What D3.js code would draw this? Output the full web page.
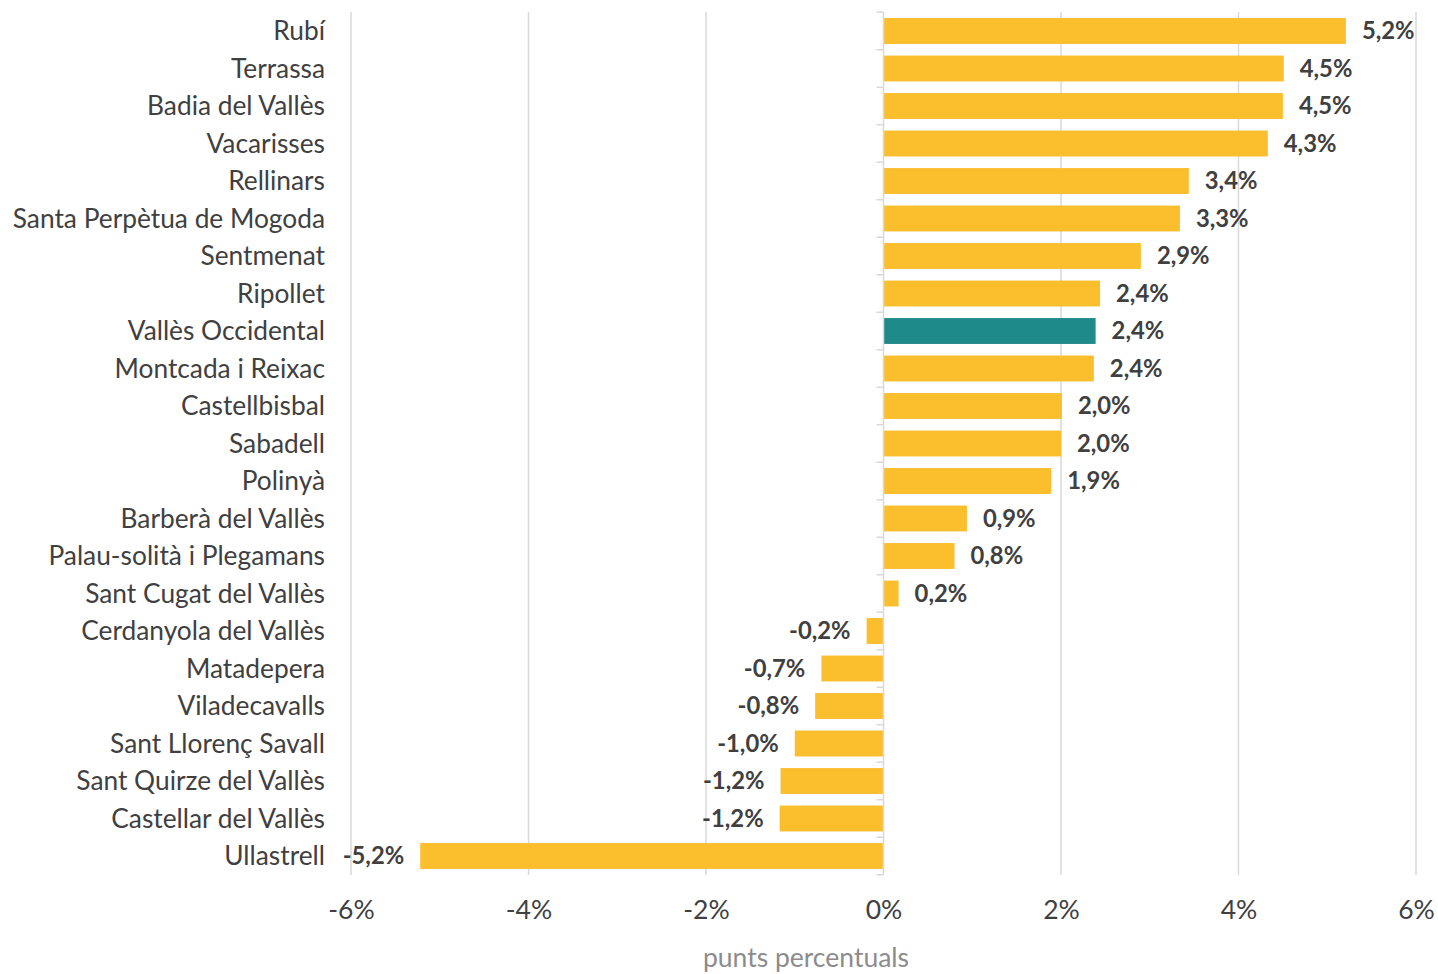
<!DOCTYPE html>
<meta charset="utf-8">
<head>
    <title>Vallès Occidental</title>
    <script src="https://d3js.org/d3.v7.min.js"></script>
</head>

<style>
    body { margin: 0; background: #fff; }
    text { font-family: Lato, "Open Sans", sans-serif; fill: #404040; }
    .grid line { stroke: #d9d9d9; stroke-width: 1.5; }
</style>

<svg></svg>

<script>
    // chart data
    var municipis = ["Rubí", "Terrassa", "Badia del Vallès", "Vacarisses", "Rellinars",
        "Santa Perpètua de Mogoda", "Sentmenat", "Ripollet", "Vallès Occidental",
        "Montcada i Reixac", "Castellbisbal", "Sabadell", "Polinyà", "Barberà del Vallès",
        "Palau-solità i Plegamans", "Sant Cugat del Vallès", "Cerdanyola del Vallès",
        "Matadepera", "Viladecavalls", "Sant Llorenç Savall", "Sant Quirze del Vallès",
        "Castellar del Vallès", "Ullastrell"];
    var variacio = [5.21, 4.51, 4.50, 4.33, 3.44, 3.34, 2.90, 2.44, 2.39, 2.37, 2.01, 2.00,
        1.89, 0.94, 0.80, 0.17, -0.19, -0.70, -0.77, -1.00, -1.16, -1.17, -5.22];
    var xTicks = [-6, -4, -2, 0, 2, 4, 6];
    var comarca = "Vallès Occidental";

    var vWidth = 1438, vHeight = 974;
    var svg = d3.select('svg').attr('width', vWidth).attr('height', vHeight);

    var x = d3.scaleLinear().domain([-6, 6]).range([351, 1416]);
    var y = d3.scaleBand().domain(municipis).range([12.25, 874.75]).paddingInner(0.31).paddingOuter(0.155);
    var fmt = function (v) { return d3.format(".1f")(v).replace(".", ",").replace("−", "-") + "%"; };

    // gridlines
    svg.append('g').attr('class', 'grid')
        .selectAll('line').data(xTicks.filter(function (t) { return t !== 0; })).enter()
        .append('line')
        .attr('x1', function (d) { return x(d); })
        .attr('x2', function (d) { return x(d); })
        .attr('y1', 12).attr('y2', 875);

    // bars
    var data = municipis.map(function (m, i) { return {name: m, value: variacio[i]}; });
    svg.append('g').selectAll('rect').data(data).enter()
        .append('rect')
        .attr('x', function (d) { return x(Math.min(0, d.value)); })
        .attr('y', function (d) { return y(d.name); })
        .attr('width', function (d) { return Math.abs(x(d.value) - x(0)); })
        .attr('height', y.bandwidth())
        .attr('fill', function (d) { return d.name === comarca ? '#1f8a8a' : '#fbbf2d'; });

    // zero axis with small ticks between categories
    var step = y.step();
    var zero = svg.append('g');
    zero.append('line')
        .attr('x1', x(0)).attr('x2', x(0)).attr('y1', 12).attr('y2', 875)
        .attr('stroke', '#d9d9d9').attr('stroke-width', 1.5);
    zero.selectAll('line.tk').data(d3.range(municipis.length + 1)).enter()
        .append('line').attr('class', 'tk')
        .attr('x1', x(0) - 7).attr('x2', x(0))
        .attr('y1', function (i) { return 12.25 + i * step; })
        .attr('y2', function (i) { return 12.25 + i * step; })
        .attr('stroke', '#d9d9d9').attr('stroke-width', 1.5);

    // category labels
    svg.append('g').selectAll('text').data(municipis).enter()
        .append('text')
        .attr('x', 325)
        .attr('y', function (d) { return y(d) + y.bandwidth() / 2; })
        .attr('dy', '0.35em')
        .attr('text-anchor', 'end')
        .style('font-size', '26.3px')
        .text(function (d) { return d; });

    // value labels
    svg.append('g').selectAll('text').data(data).enter()
        .append('text')
        .attr('x', function (d) { return d.value >= 0 ? x(d.value) + 16 : x(d.value) - 16; })
        .attr('y', function (d) { return y(d.name) + y.bandwidth() / 2; })
        .attr('dy', '0.35em')
        .attr('text-anchor', function (d) { return d.value >= 0 ? 'start' : 'end'; })
        .style('font-size', '23.8px')
        .style('font-weight', 'bold')
        .text(function (d) { return fmt(d.value); });

    // x axis tick labels
    var xAxis = d3.axisBottom(x).tickValues(xTicks).tickSize(0).tickPadding(0)
        .tickFormat(function (d) { return d + "%"; });
    var gx = svg.append('g').attr('transform', 'translate(0,910)').call(xAxis);
    gx.select('.domain').remove();
    gx.selectAll('text')
        .attr('y', 0).attr('dy', '0.35em')
        .style('font-size', '26.5px')
        .style('font-family', 'Lato, sans-serif')
        .style('fill', '#404040');

    // axis title
    svg.append('text')
        .attr('x', 806).attr('y', 958).attr('dy', '0.35em')
        .attr('text-anchor', 'middle')
        .style('font-size', '26.5px')
        .style('fill', '#8c8c8c')
        .text('punts percentuals');
</script>
